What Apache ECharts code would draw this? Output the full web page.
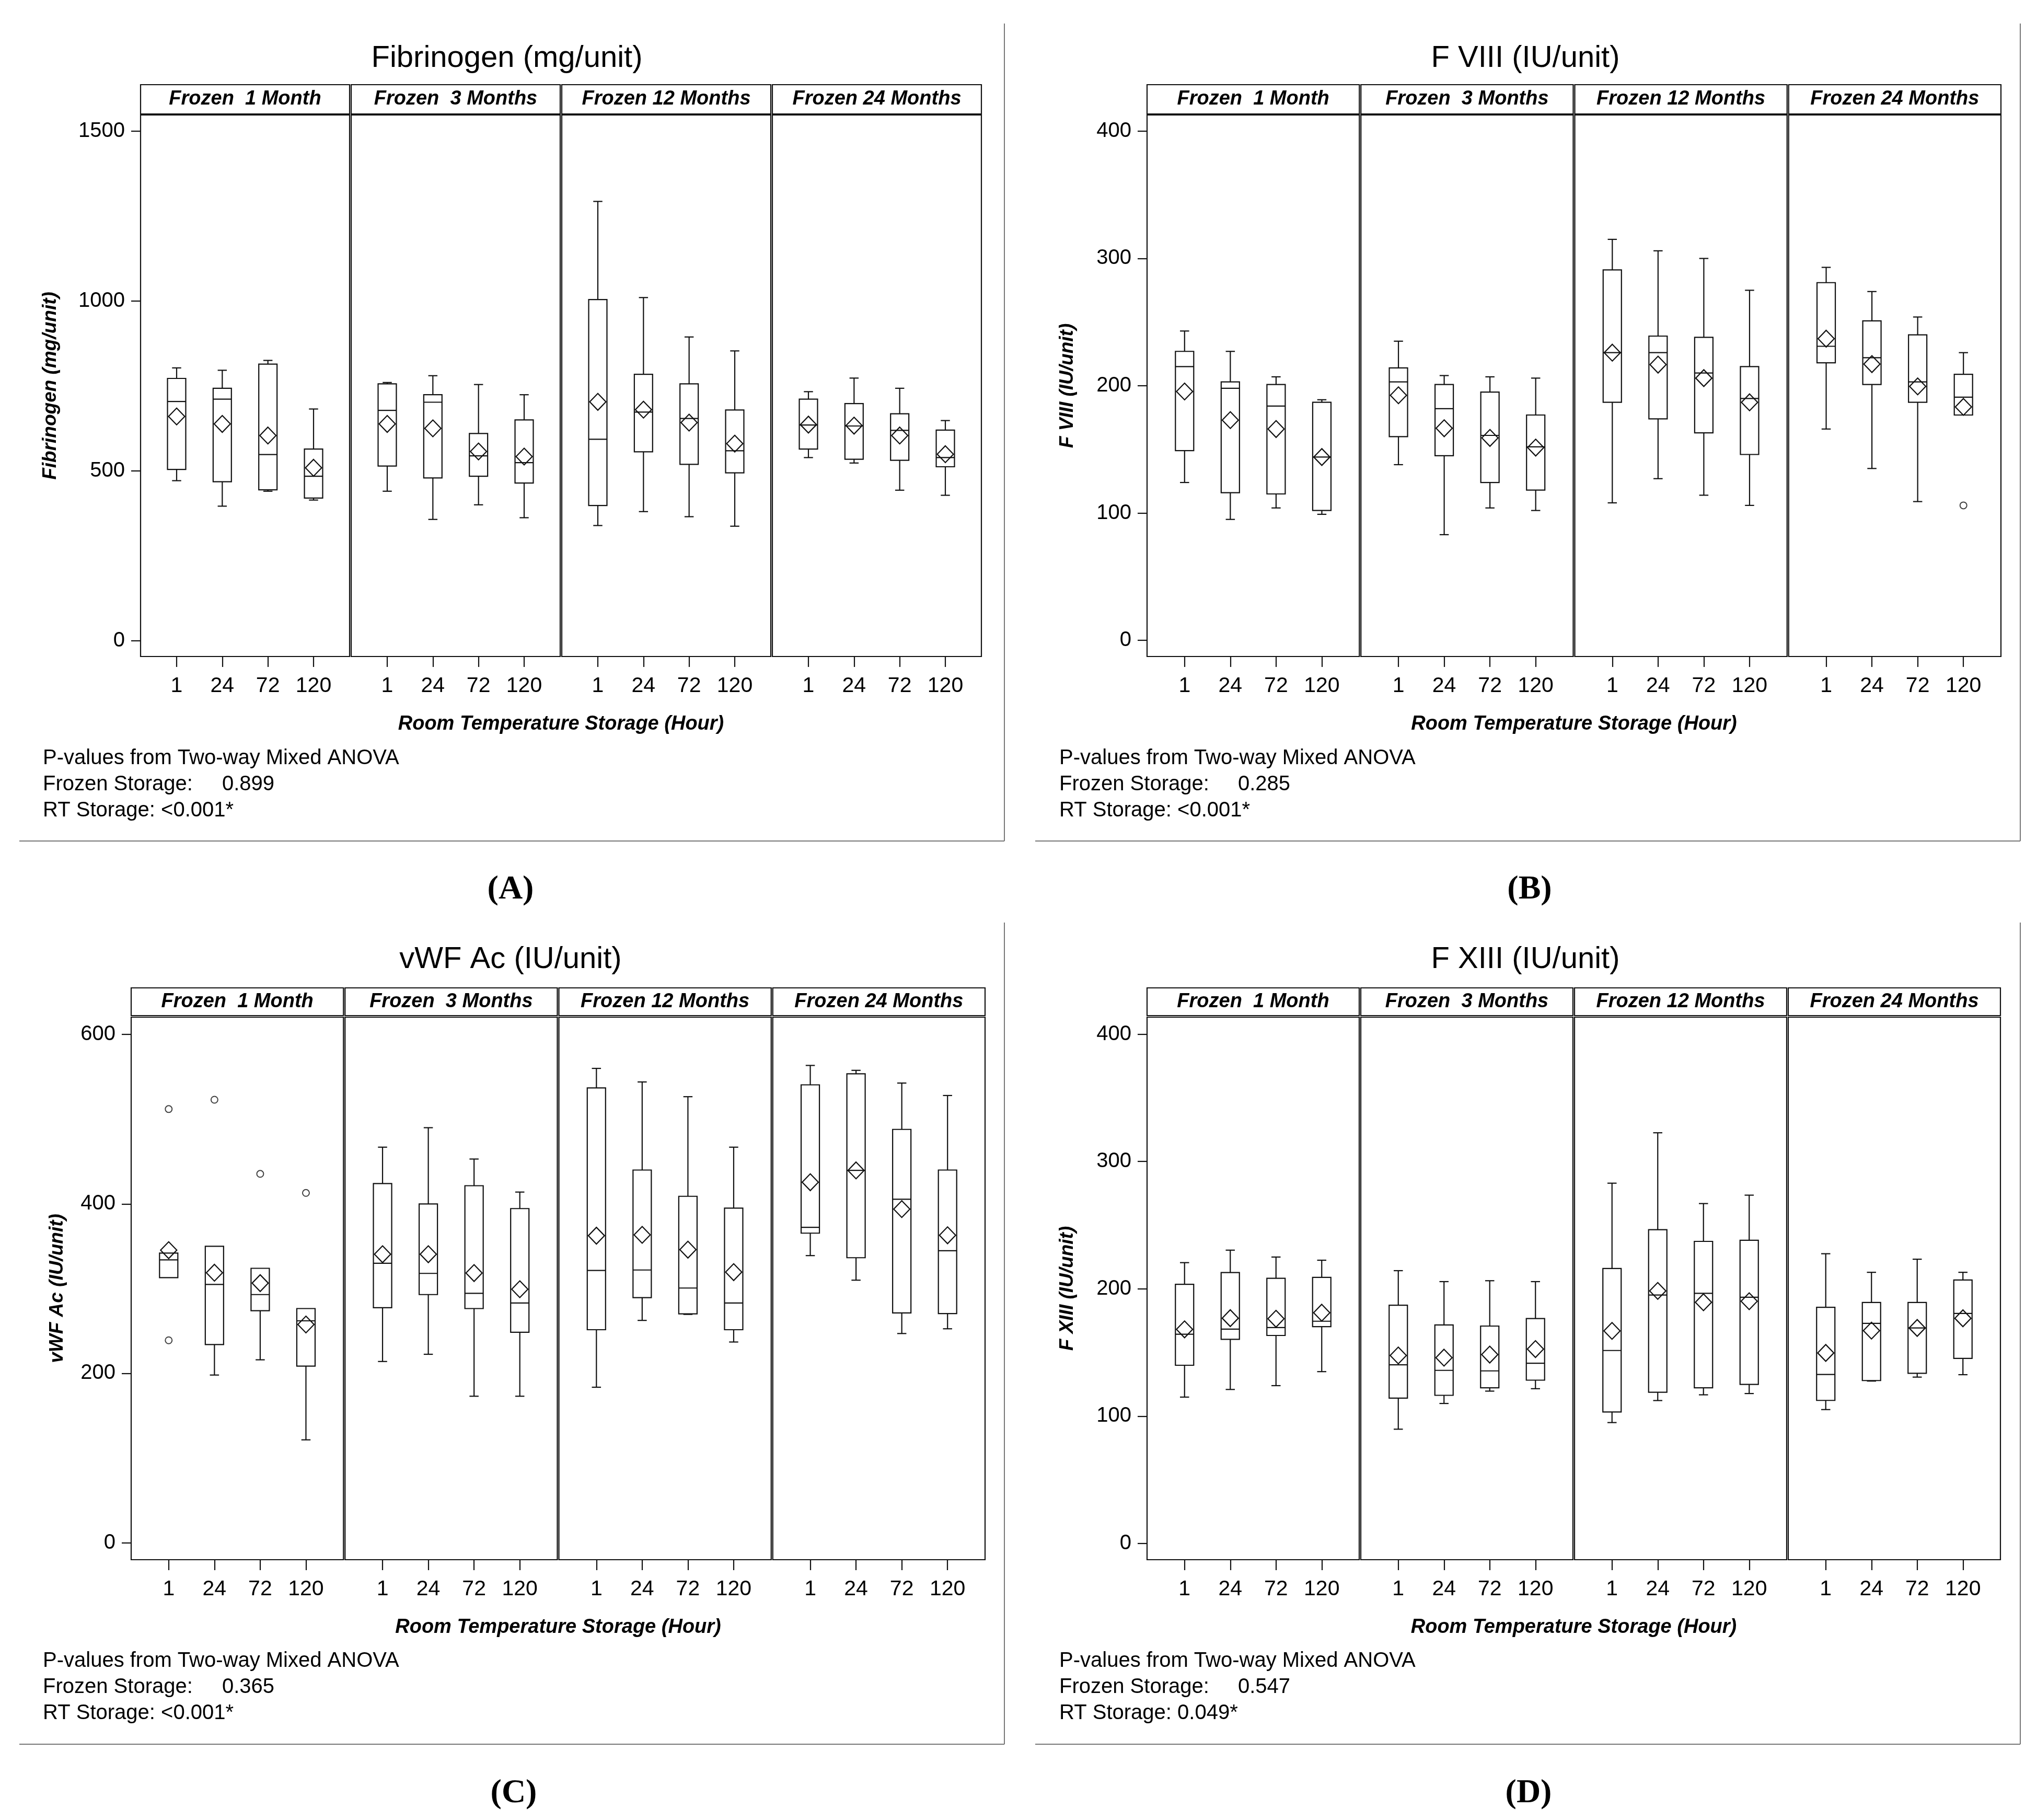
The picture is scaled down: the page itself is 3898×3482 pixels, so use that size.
<!DOCTYPE html>
<html><head><meta charset="utf-8">
<script src="https://cdn.jsdelivr.net/npm/echarts@6/dist/echarts.min.js"></script>
<style>html,body{margin:0;padding:0;background:#fff}#c{width:3898px;height:3482px}</style>
</head><body><div id="c"></div>
<script>
// ---------- data ----------
const timeLabels = ['1', '24', '72', '120'];
const frozenLabels = ['Frozen  1 Month', 'Frozen  3 Months', 'Frozen 12 Months', 'Frozen 24 Months'];

// order: 1M(1,24,72,120), 3M(...), 12M(...), 24M(...)
const fibTicks = [0, 500, 1000, 1500];
const fibMin  = [471, 396, 440, 414, 440, 357, 400, 362, 339, 380, 365, 337, 539, 523, 443, 428];
const fibQ1   = [504, 468, 444, 420, 514, 479, 484, 464, 398, 556, 519, 494, 564, 534, 531, 512];
const fibMed  = [704, 711, 548, 484, 678, 702, 544, 524, 593, 673, 654, 559, 635, 632, 619, 539];
const fibQ3   = [772, 743, 814, 564, 756, 724, 610, 650, 1004, 784, 756, 679, 711, 698, 668, 620];
const fibMax  = [803, 796, 825, 682, 760, 780, 754, 724, 1293, 1010, 894, 853, 733, 773, 743, 648];
const fibMean = [660, 638, 604, 509, 638, 625, 557, 542, 703, 680, 642, 580, 636, 633, 604, 549];
const fibOut  = [];

const f8Ticks = [0, 100, 200, 300, 400];
const f8Min  = [124, 95, 104, 99, 138, 83, 104, 102, 108, 127, 114, 106, 166, 135, 109, 177];
const f8Q1   = [149, 116, 115, 102, 160, 145, 124, 118, 187, 174, 163, 146, 218, 201, 187, 177];
const f8Med  = [215, 198, 184, 144, 203, 182, 161, 152, 226, 226, 210, 190, 231, 222, 203, 191];
const f8Q3   = [227, 203, 201, 187, 214, 201, 195, 177, 291, 239, 238, 215, 281, 251, 240, 209];
const f8Max  = [243, 227, 207, 189, 235, 208, 207, 206, 315, 306, 300, 275, 293, 274, 254, 226];
const f8Mean = [195.5, 173, 166, 144, 192.5, 166.6, 159, 151.4, 226, 216.6, 206, 187, 237, 217, 199.5, 183.4];
const f8Out  = [[3, 3, 106]]; // [panel, time index, value]

const vwfTicks = [0, 200, 400, 600];
const vwfMin  = [313, 198, 216, 121.5, 214, 222.5, 173, 173, 183.6, 262.5, 269.6, 237, 339, 310, 247, 252.6];
const vwfQ1   = [313, 234, 274, 208.5, 277.5, 293, 276.5, 248.5, 251.5, 289.4, 270.3, 251.5, 365.5, 336.5, 271.3, 270.6];
const vwfMed  = [334, 305, 293, 262, 330, 318, 294.5, 283, 321.5, 322, 300.7, 283, 372.4, 439.6, 405.5, 344.7];
const vwfQ3   = [342, 350, 324, 276.5, 424, 400, 421.5, 394.5, 537, 440, 409, 395, 540.6, 553.6, 488, 440];
const vwfMax  = [342, 350, 324, 276.5, 467, 490, 453, 414, 560, 544, 526.6, 467, 563.5, 557.7, 542.7, 528];
const vwfMean = [345.4, 318.8, 306.5, 257.7, 340.6, 340.6, 318.4, 299.3, 362.5, 363.5, 346, 319.5, 425.6, 439.6, 393.9, 363];
const vwfOut  = [[0, 0, 512], [0, 0, 239], [0, 1, 523], [0, 2, 435.5], [0, 3, 413]];

const f13Ticks = [0, 100, 200, 300, 400];
const f13Min  = [115, 121, 124, 135, 89.8, 110, 119.7, 121.6, 95, 112.3, 116.8, 117.8, 105.2, 127.6, 130.7, 132.6];
const f13Q1   = [140, 160.4, 163.4, 170.3, 114.2, 116.4, 122.3, 128.3, 103.3, 118.8, 122.3, 125, 112.4, 128, 133.7, 145.4];
const f13Med  = [164.4, 168.4, 169.6, 174.6, 140.4, 136, 135.6, 141.6, 151.6, 195.2, 196.5, 193.4, 132.8, 172.9, 169.3, 180.7];
const f13Q3   = [203.6, 212.8, 208.3, 209, 187.2, 171.7, 170.8, 176.7, 216, 246.5, 237.3, 238.2, 185.5, 189.3, 189.3, 207];
const f13Max  = [220.6, 230.4, 225, 222.5, 214.3, 205.7, 206.4, 205.7, 283, 322.6, 267, 273.6, 227.6, 213, 223.3, 213];
const f13Mean = [168.2, 177, 176.5, 181.3, 147.7, 146, 148.4, 152.7, 167, 198.4, 189.5, 190.3, 149.7, 167.2, 169.3, 176.9];
const f13Out  = [];

const titles   = ['Fibrinogen (mg/unit)', 'F VIII (IU/unit)', 'vWF Ac (IU/unit)', 'F XIII (IU/unit)'];
const yTitles  = ['Fibrinogen (mg/unit)', 'F VIII (IU/unit)', 'vWF Ac (IU/unit)', 'F XIII (IU/unit)'];
const frozenP  = ['0.899', '0.285', '0.365', '0.547'];
const rtP      = ['<0.001*', '<0.001*', '<0.001*', '0.049*'];
const tags     = ['(A)', '(B)', '(C)', '(D)'];
const xTitle   = 'Room Temperature Storage (Hour)';
const pHeader  = 'P-values from Two-way Mixed ANOVA';

// ---------- layout ----------
const layouts = [
  {left:269, right:1878, headTop:162, headBot:218, plotTop:220, plotBot:1256, yMin:-46.5, yMax:1547.4, xMin:-0.79, xMax:3.79,
   titleX:970, titleY:112, yNameX:97, xTitleY:1386, pX:82, pValX:425, pY0:1451, vLineX:1922, vLineTop:45, hLineY:1609, hLineX1:37, tagX:977, tagY:1702},
  {left:2195, right:3829, headTop:162, headBot:218, plotTop:220, plotBot:1256, yMin:-12.7, yMax:412.7, xMin:-0.82, xMax:3.82,
   titleX:2919, titleY:112, yNameX:2043, xTitleY:1386, pX:2027, pValX:2369, pY0:1451, vLineX:3866, vLineTop:45, hLineY:1609, hLineX1:1981, tagX:2927, tagY:1702},
  {left:251, right:1885, headTop:1890, headBot:1943, plotTop:1946, plotBot:2984, yMin:-20, yMax:620.5, xMin:-0.82, xMax:3.82,
   titleX:977, titleY:1836, yNameX:110, xTitleY:3114, pX:82, pValX:425, pY0:3178, vLineX:1922, vLineTop:1765, hLineY:3337, hLineX1:37, tagX:983, tagY:3431},
  {left:2195, right:3828, headTop:1890, headBot:1943, plotTop:1946, plotBot:2984, yMin:-12.7, yMax:413.4, xMin:-0.82, xMax:3.82,
   titleX:2919, titleY:1836, yNameX:2043, xTitleY:3114, pX:2027, pValX:2369, pY0:3178, vLineX:3866, vLineTop:1765, hLineY:3337, hLineX1:1981, tagX:2925, tagY:3431}
];

const chartsData = [
  {min:fibMin, q1:fibQ1, med:fibMed, q3:fibQ3, max:fibMax, mean:fibMean, out:fibOut, ticks:fibTicks},
  {min:f8Min, q1:f8Q1, med:f8Med, q3:f8Q3, max:f8Max, mean:f8Mean, out:f8Out, ticks:f8Ticks},
  {min:vwfMin, q1:vwfQ1, med:vwfMed, q3:vwfQ3, max:vwfMax, mean:vwfMean, out:vwfOut, ticks:vwfTicks},
  {min:f13Min, q1:f13Q1, med:f13Med, q3:f13Q3, max:f13Max, mean:f13Mean, out:f13Out, ticks:f13Ticks}
];

const SANS = '"Liberation Sans", Arial, sans-serif';
const NARROW = '"Liberation Sans Narrow", "Arial Narrow", "Liberation Sans", sans-serif';
const LINE = '#111';
const LW = 2.2;
const GAP = 3;

function renderBox(params, api) {
  const x = api.value(0);
  const vmin = api.value(1), q1 = api.value(2), med = api.value(3), q3 = api.value(4), vmax = api.value(5), mean = api.value(6);
  const unit = api.size([1, 0])[0];
  const bw = unit * 0.4, cw = unit * 0.2;
  const pMin = api.coord([x, vmin]), pQ1 = api.coord([x, q1]), pMed = api.coord([x, med]);
  const pQ3 = api.coord([x, q3]), pMax = api.coord([x, vmax]), pMean = api.coord([x, mean]);
  const cx = pMin[0];
  const st = {stroke: LINE, lineWidth: LW, fill: null};
  const ch = [];
  if (vmax > q3 + 0.01) {
    ch.push({type:'line', shape:{x1:cx, y1:pMax[1], x2:cx, y2:pQ3[1]}, style:st});
    ch.push({type:'line', shape:{x1:cx - cw/2, y1:pMax[1], x2:cx + cw/2, y2:pMax[1]}, style:st});
  }
  if (vmin < q1 - 0.01) {
    ch.push({type:'line', shape:{x1:cx, y1:pQ1[1], x2:cx, y2:pMin[1]}, style:st});
    ch.push({type:'line', shape:{x1:cx - cw/2, y1:pMin[1], x2:cx + cw/2, y2:pMin[1]}, style:st});
  }
  ch.push({type:'rect', shape:{x:cx - bw/2, y:pQ3[1], width:bw, height:pQ1[1] - pQ3[1]}, style:{stroke:LINE, lineWidth:LW, fill:'none'}});
  ch.push({type:'line', shape:{x1:cx - bw/2, y1:pMed[1], x2:cx + bw/2, y2:pMed[1]}, style:st});
  const dw = 15.5, dh = 16;
  ch.push({type:'polygon', shape:{points:[[cx, pMean[1]-dh],[cx+dw, pMean[1]],[cx, pMean[1]+dh],[cx-dw, pMean[1]]]}, style:{stroke:LINE, lineWidth:LW, fill:'none'}});
  return {type:'group', children:ch};
}

const grids = [], xAxes = [], yAxes = [], series = [], graphics = [];

layouts.forEach((L, ci) => {
  const D = chartsData[ci];
  const pw = (L.right - L.left - 3 * GAP) / 4;
  for (let p = 0; p < 4; p++) {
    const g = ci * 4 + p;
    const gl = L.left + p * (pw + GAP);
    grids.push({left: gl, top: L.plotTop, width: pw, height: L.plotBot - L.plotTop, show: true,
      borderColor: LINE, borderWidth: LW, backgroundColor: 'transparent', containLabel: false});
    xAxes.push({type:'value', gridIndex:g, min:L.xMin, max:L.xMax, position:'bottom',
      axisLine:{show:false, onZero:false}, splitLine:{show:false},
      axisTick:{show:true, inside:false, length:20, customValues:[0,1,2,3], lineStyle:{color:LINE, width:LW}},
      axisLabel:{show:true, customValues:[0,1,2,3], margin:36, fontSize:41, fontFamily:NARROW, color:'#000',
        formatter: v => timeLabels[Math.round(v)]}});
    yAxes.push({type:'value', gridIndex:g, min:L.yMin, max:L.yMax, position:'left',
      axisLine:{show:false, onZero:false}, splitLine:{show:false},
      axisTick:{show: p === 0, inside:false, length:18, customValues:D.ticks, lineStyle:{color:LINE, width:LW}},
      axisLabel:{show: p === 0, customValues:D.ticks, margin:30, fontSize:40, fontFamily:NARROW, color:'#000',
        formatter: v => String(Math.round(v))}});
    const data = [];
    for (let i = 0; i < 4; i++) {
      const k = p * 4 + i;
      data.push([i, D.min[k], D.q1[k], D.med[k], D.q3[k], D.max[k], D.mean[k]]);
    }
    series.push({type:'custom', xAxisIndex:g, yAxisIndex:g, renderItem:renderBox, data:data,
      encode:{x:0, y:[1,2,3,4,5,6]}, silent:true, clip:false});
    const outs = D.out.filter(o => o[0] === p).map(o => [o[1], o[2]]);
    if (outs.length) {
      series.push({type:'scatter', xAxisIndex:g, yAxisIndex:g, data:outs, symbol:'circle', symbolSize:13,
        itemStyle:{color:'#fff', borderColor:LINE, borderWidth:2}, silent:true});
    }
    // strip header
    graphics.push({type:'rect', shape:{x:gl, y:L.headTop, width:pw, height:L.headBot - L.headTop},
      style:{fill:'#fff', stroke:LINE, lineWidth:LW}});
    graphics.push({type:'text', x: gl + pw/2, y:(L.headTop + L.headBot)/2,
      style:{text:frozenLabels[p], font:'italic bold 38px ' + SANS, fill:'#000', align:'center', verticalAlign:'middle'}});
  }
  // titles and texts
  graphics.push({type:'text', x:L.titleX, y:L.titleY,
    style:{text:titles[ci], font:'58px ' + SANS, fill:'#000', align:'center', verticalAlign:'middle'}});
  graphics.push({type:'text', x:L.yNameX, y:(L.plotTop + L.plotBot)/2, rotation:Math.PI/2,
    style:{text:yTitles[ci], font:'italic bold 37px ' + SANS, fill:'#000', align:'center', verticalAlign:'middle'}});
  graphics.push({type:'text', x:(L.left + L.right)/2, y:L.xTitleY,
    style:{text:xTitle, font:'italic bold 38px ' + SANS, fill:'#000', align:'center', verticalAlign:'middle'}});
  graphics.push({type:'text', x:L.pX, y:L.pY0,
    style:{text:pHeader, font:'40px ' + SANS, fill:'#000', align:'left', verticalAlign:'middle'}});
  graphics.push({type:'text', x:L.pX, y:L.pY0 + 50,
    style:{text:'Frozen Storage:', font:'40px ' + SANS, fill:'#000', align:'left', verticalAlign:'middle'}});
  graphics.push({type:'text', x:L.pValX, y:L.pY0 + 50,
    style:{text:frozenP[ci], font:'40px ' + SANS, fill:'#000', align:'left', verticalAlign:'middle'}});
  graphics.push({type:'text', x:L.pX, y:L.pY0 + 100,
    style:{text:'RT Storage: ' + rtP[ci], font:'40px ' + SANS, fill:'#000', align:'left', verticalAlign:'middle'}});
  graphics.push({type:'line', shape:{x1:L.vLineX, y1:L.vLineTop, x2:L.vLineX, y2:L.hLineY}, style:{stroke:'#777', lineWidth:2}});
  graphics.push({type:'line', shape:{x1:L.hLineX1, y1:L.hLineY, x2:L.vLineX, y2:L.hLineY}, style:{stroke:'#777', lineWidth:2}});
  graphics.push({type:'text', x:L.tagX, y:L.tagY,
    style:{text:tags[ci], font:'bold 64px "Liberation Serif", "Times New Roman", serif', fill:'#000', align:'center', verticalAlign:'middle'}});
});

const chart = echarts.init(document.getElementById('c'), null, {renderer:'canvas'});
chart.setOption({
  backgroundColor:'#fff',
  animation:false,
  grid:grids, xAxis:xAxes, yAxis:yAxes, series:series,
  graphic:{elements:graphics}
});
</script></body></html>
